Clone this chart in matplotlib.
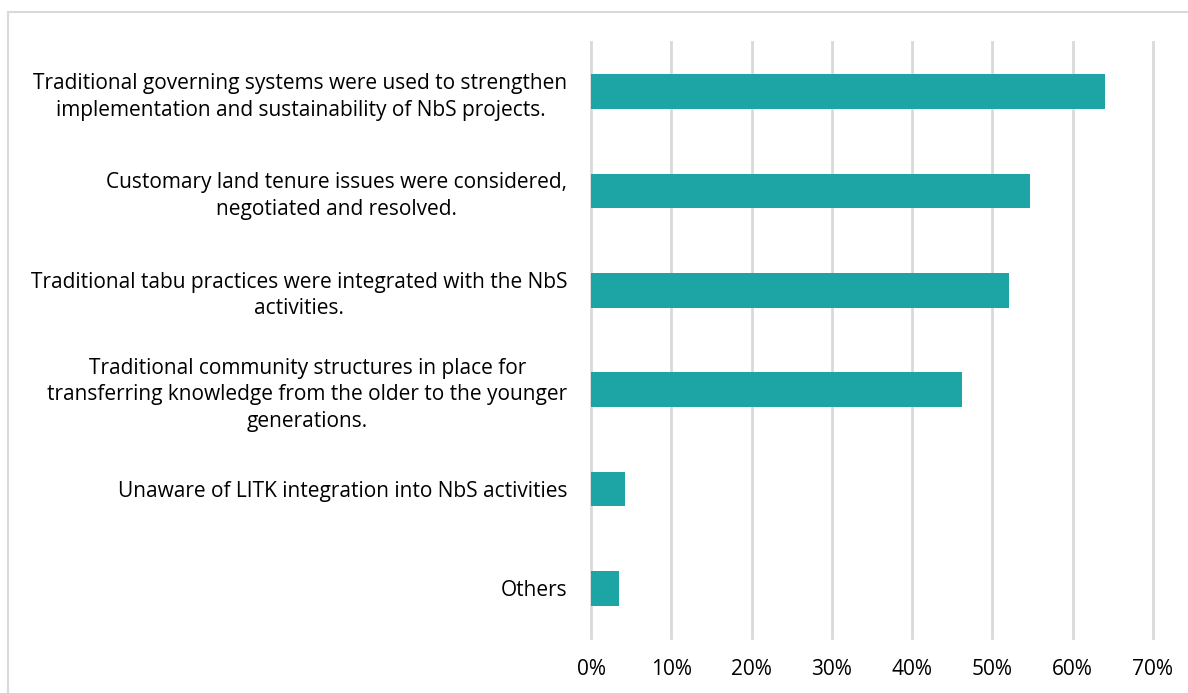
import numpy as np
import matplotlib.pyplot as plt
from matplotlib.patches import Rectangle
from matplotlib.ticker import PercentFormatter

### Survey responses
labels = [
    "Traditional governing systems were used to strengthen\nimplementation and sustainability of NbS projects.",
    "Customary land tenure issues were considered,\nnegotiated and resolved.",
    "Traditional tabu practices were integrated with the NbS\nactivities.",
    "Traditional community structures in place for\ntransferring knowledge from the older to the younger\ngenerations.",
    "Unaware of LITK integration into NbS activities",
    "Others",
]
shares = [64.0, 54.7, 52.1, 46.2, 4.2, 3.5]
xticks = [0, 10, 20, 30, 40, 50, 60, 70]

plt.rcParams['font.family'] = ['Open Sans', 'DejaVu Sans']

fig = plt.figure(figsize=(11.88, 6.93), dpi=100)
ax = fig.add_axes([0.4975, 0.0794, 0.473, 0.86])

y = np.arange(len(labels))
ax.barh(y, shares, height=0.35, color='#1DA5A6', zorder=3)
ax.set_ylim(len(labels) - 0.5, -0.5)
ax.set_xlim(0, 70)
ax.set_xticks(xticks)
ax.xaxis.set_major_formatter(PercentFormatter(decimals=0))
ax.set_yticks(y)
ax.set_yticklabels(labels, ha='right', multialignment='center', linespacing=1.35)

ax.grid(axis='x', color='#D9D9D9', linewidth=2, zorder=0)
for gl in ax.get_xgridlines():
    gl.set_clip_on(False)
ax.tick_params(axis='both', length=0, labelsize=15, colors='#000000')
ax.tick_params(axis='y', pad=17)
ax.tick_params(axis='x', pad=15)
for s in ax.spines.values():
    s.set_visible(False)

# light frame round the chart area
fig.patches.append(Rectangle((8 / 1188, -0.01), 1.2, 1 - 12 / 693 + 0.01,
                             transform=fig.transFigure, fill=False,
                             edgecolor='#D9D9D9', linewidth=1.5))

plt.savefig('out.png', dpi=100)
